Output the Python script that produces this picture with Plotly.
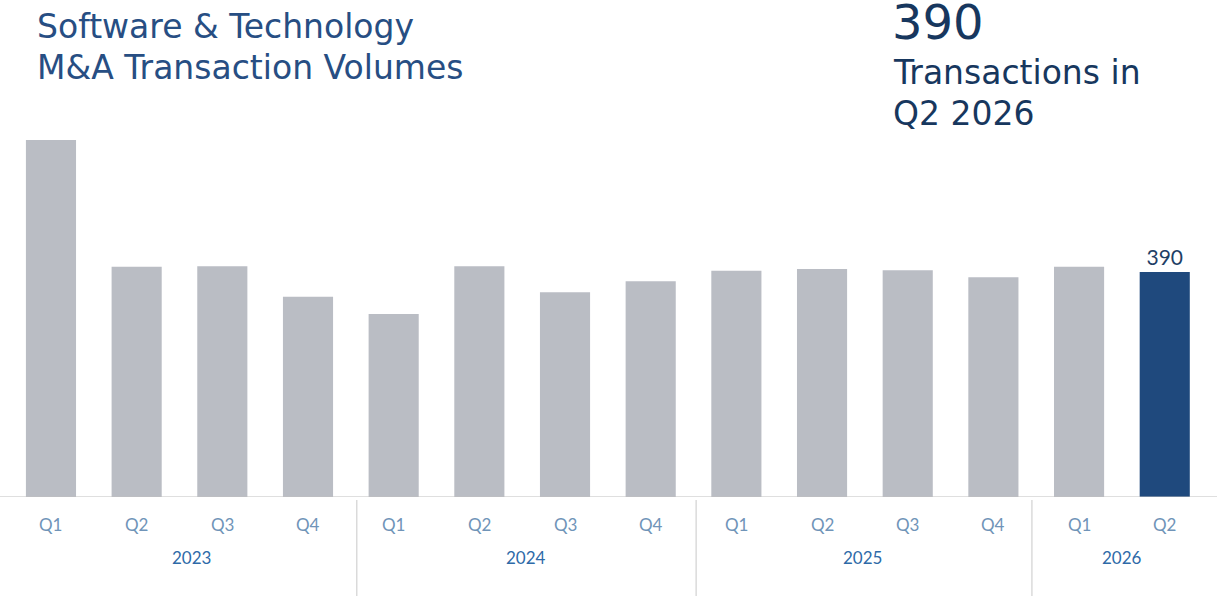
import plotly.graph_objects as go

quarters = ["Q1", "Q2", "Q3", "Q4", "Q1", "Q2", "Q3", "Q4", "Q1", "Q2", "Q3", "Q4", "Q1", "Q2"]
years = ["2023", "2024", "2025", "2026"]
year_counts = [4, 4, 4, 2]
values = [619, 399, 400, 347, 317, 400, 355, 374, 392, 395, 393, 381, 399, 390]

W, H = 1217, 596
B = 99
plot_h = H - B

x = list(range(len(values)))
colors = ["#babdc4"] * (len(values) - 1) + ["#1f497d"]
texts = [""] * (len(values) - 1) + [str(values[-1])]

fig = go.Figure(go.Bar(
    x=x, y=values, marker=dict(color=colors, line=dict(width=0)),
    text=texts, textposition="outside", cliponaxis=False,
    textfont=dict(family="Lato", size=21, color="#1f3f66"),
    width=0.585, hoverinfo="skip",
))

fig.update_layout(
    width=W, height=H,
    margin=dict(l=0, r=0, t=0, b=B),
    plot_bgcolor="white", paper_bgcolor="white",
    showlegend=False,
    xaxis=dict(range=[-0.595, 13.61], showticklabels=False, showgrid=False,
               zeroline=False, showline=False, ticks=""),
    yaxis=dict(range=[0, 861.5], showticklabels=False, showgrid=False,
               zeroline=False, showline=False, ticks=""),
)

def py(px_from_top):
    return (plot_h - px_from_top) / plot_h

# baseline axis line
fig.add_shape(type="line", xref="paper", yref="y", x0=0, x1=1, y0=0, y1=0,
              line=dict(color="#bfbfbf", width=1.2))

# quarter labels
for i, q in enumerate(quarters):
    fig.add_annotation(x=i, y=py(524), xref="x", yref="paper", text=q,
                       showarrow=False, yanchor="middle",
                       font=dict(family="Lato", size=17, color="#7094b8"))

# year labels & separators
year_shift = [0.14, 0.04, -0.03, 0.0]
sep_shift = [0.0, 0.07, 0.03, -0.05]
start = 0
for k, (yr, n) in enumerate(zip(years, year_counts)):
    center = start + (n - 1) / 2 + year_shift[k]
    fig.add_annotation(x=center, y=py(557), xref="x", yref="paper", text=yr,
                       showarrow=False, yanchor="middle",
                       font=dict(family="Lato", size=17, color="#2e6aa8"))
    if k > 0:
        sx = start - 0.5 + sep_shift[k]
        fig.add_shape(type="line", xref="x", yref="paper", x0=sx, x1=sx,
                      y0=py(500), y1=py(596), line=dict(color="#c8c8c8", width=1))
    start += n

# titles
TF = "DejaVu Sans"
fig.add_annotation(x=35 / W, y=py(26), xref="paper", yref="paper",
                   text="Software & Technology", showarrow=False,
                   xanchor="left", yanchor="middle",
                   font=dict(family=TF, size=33, color="#274e83"))
fig.add_annotation(x=35 / W, y=py(67), xref="paper", yref="paper",
                   text="M&A Transaction Volumes", showarrow=False,
                   xanchor="left", yanchor="middle",
                   font=dict(family=TF, size=33, color="#274e83"))

fig.add_annotation(x=890 / W, y=py(22), xref="paper", yref="paper",
                   text=str(values[-1]), showarrow=False,
                   xanchor="left", yanchor="middle",
                   font=dict(family=TF, size=48, color="#17375e"))
fig.add_annotation(x=891 / W, y=py(73), xref="paper", yref="paper",
                   text="Transactions in", showarrow=False,
                   xanchor="left", yanchor="middle",
                   font=dict(family=TF, size=33, color="#17375e"))
fig.add_annotation(x=891 / W, y=py(114), xref="paper", yref="paper",
                   text="Q2 2026", showarrow=False,
                   xanchor="left", yanchor="middle",
                   font=dict(family=TF, size=33, color="#17375e"))

fig.write_html("out.html", config={"displayModeBar": False})
